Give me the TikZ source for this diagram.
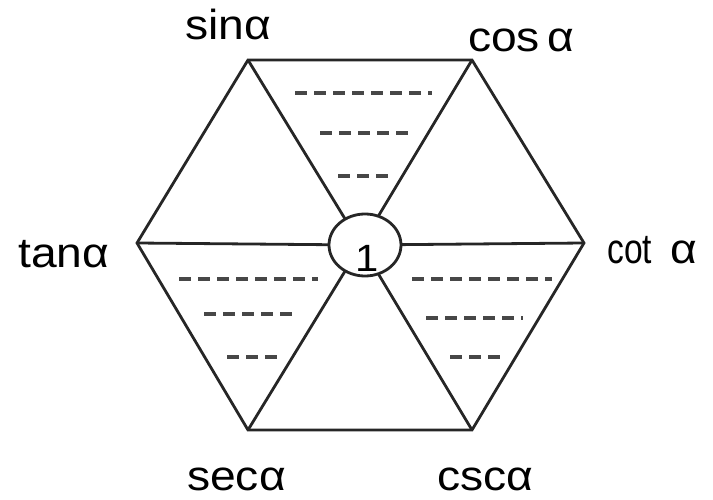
\documentclass[tikz,border=0pt]{standalone}
\usepackage{fontspec}
\setmainfont{Liberation Sans}
\newfontfamily\lab[FakeStretch=1.1]{Liberation Sans}
\newfontfamily\labn[FakeStretch=0.8]{Liberation Sans}
\usetikzlibrary{shapes.geometric}
\begin{document}
\begin{tikzpicture}[x=1pt,y=-1pt,
  edge/.style={draw=black!85, line width=2.8pt, line join=miter},
  dashrow/.style={draw=black!72, line width=3.5pt, dash pattern=on 12pt off 7pt},
  lbl/.style={anchor=base west, inner sep=0pt, font=\lab\fontsize{42}{42}\selectfont},
  lbln/.style={anchor=base west, inner sep=0pt, font=\labn\fontsize{42}{42}\selectfont}]
\useasboundingbox (0,0) rectangle (713,500);
\coordinate (A) at (248,60);
\coordinate (B) at (472,60);
\coordinate (C) at (584,243);
\coordinate (D) at (472,430);
\coordinate (E) at (248,430);
\coordinate (F) at (137,243);
\coordinate (O) at (361,245);
\draw[edge] (A)--(B)--(C)--(D)--(E)--(F)--cycle;
\draw[edge] (A)--(O) (B)--(O) (C)--(O) (D)--(O) (E)--(O) (F)--(O);
\node[ellipse, draw=black!85, line width=2.8pt, fill=white, minimum width=72pt, minimum height=62pt, inner sep=0pt] (one) at (365,245) {};
\node[anchor=base, inner sep=0pt, font=\lab\fontsize{38}{38}\selectfont] (onetext) at (367,272) {1};
% dashed rows
\draw[dashrow] (295,93) -- (432,93);
\draw[dashrow] (320,133) -- (412,133);
\draw[dashrow] (338,176) -- (390,176);
\draw[dashrow] (179,279) -- (318,279);
\draw[dashrow] (204,314) -- (295,314);
\draw[dashrow] (227,357) -- (277,357);
\draw[dashrow] (412,279) -- (552,279);
\draw[dashrow] (426,318) -- (523,318);
\draw[dashrow] (450,357) -- (502,357);
% labels
\node[lbl] (sin) at (185,40) {sinα};
\node[lbl] (cos) at (468,52) {cos\,α};
\node[lbl] (tan) at (18,267) {tanα};
\node[lbln] (cot) at (607,263) {cot};
\node[lbl] (cota) at (670,263) {α};
\node[lbl] (sec) at (187,490) {secα};
\node[lbl] (csc) at (437,490) {cscα};
\end{tikzpicture}
\end{document}
